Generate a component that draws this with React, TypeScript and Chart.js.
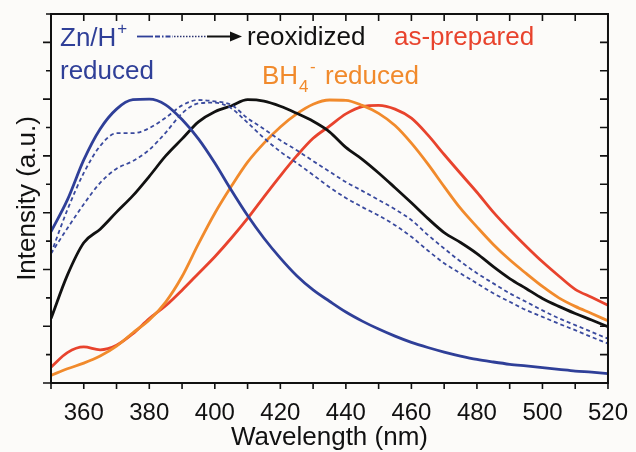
import React, { useEffect, useRef } from "react";
import { Chart, registerables } from "chart.js";

Chart.register(...registerables);

const wavelengths = [350, 355, 360, 365, 370, 375, 380, 385, 390, 395, 400, 405, 410, 415, 420, 425, 430, 435, 440, 445, 450, 455, 460, 465, 470, 475, 480, 485, 490, 495, 500, 505, 510, 515, 520];

const znReduced = [5.33, 6.45, 7.86, 8.95, 9.65, 9.98, 10.0, 9.8, 9.28, 8.6, 7.75, 6.8, 5.9, 5.1, 4.4, 3.78, 3.28, 2.88, 2.5, 2.18, 1.9, 1.65, 1.43, 1.25, 1.09, 0.95, 0.83, 0.74, 0.66, 0.6, 0.54, 0.48, 0.42, 0.38, 0.33];

const reoxStepA = [4.56, 6.1, 7.4, 8.35, 8.8, 8.8, 8.98, 9.35, 9.78, 9.97, 9.92, 9.8, 9.33, 8.95, 8.55, 8.2, 7.82, 7.45, 7.08, 6.77, 6.45, 6.12, 5.74, 5.22, 4.74, 4.28, 3.87, 3.51, 3.16, 2.86, 2.56, 2.28, 2.04, 1.8, 1.56];

const reoxStepB = [4.56, 5.45, 6.3, 7.05, 7.55, 7.82, 8.22, 8.82, 9.5, 9.85, 9.88, 9.68, 9.17, 8.63, 8.15, 7.75, 7.33, 6.9, 6.52, 6.2, 5.9, 5.56, 5.15, 4.67, 4.22, 3.86, 3.51, 3.16, 2.86, 2.57, 2.33, 2.09, 1.86, 1.62, 1.39];

const reoxidized = [2.27, 3.8, 4.94, 5.42, 6.02, 6.6, 7.28, 8.0, 8.6, 9.2, 9.56, 9.76, 9.98, 9.93, 9.75, 9.5, 9.22, 8.85, 8.3, 7.88, 7.4, 6.88, 6.35, 5.8, 5.3, 4.95, 4.56, 4.1, 3.68, 3.33, 2.98, 2.7, 2.45, 2.22, 1.98];

const bh4Reduced = [0.27, 0.5, 0.7, 0.95, 1.3, 1.77, 2.22, 2.85, 3.75, 4.9, 5.98, 6.92, 7.78, 8.45, 9.02, 9.48, 9.82, 9.97, 9.96, 9.78, 9.5, 9.07, 8.45, 7.72, 6.92, 6.15, 5.5, 4.88, 4.34, 3.86, 3.4, 3.0, 2.7, 2.45, 2.19];

const asPrepared = [0.56, 1.07, 1.27, 1.17, 1.33, 1.74, 2.27, 2.72, 3.27, 3.86, 4.45, 5.1, 5.8, 6.56, 7.3, 8.0, 8.62, 9.05, 9.48, 9.74, 9.78, 9.65, 9.33, 8.74, 8.05, 7.38, 6.72, 6.02, 5.4, 4.82, 4.27, 3.77, 3.3, 3.02, 2.74];

const xTickLabels = [360, 380, 400, 420, 440, 460, 480, 500, 520];

const BG = "#fcfbf9";
const BLUE = "#2f3f98";
const DASH_BLUE = "#3a4a9e";
const BLACK = "#111111";
const ORANGE = "#f18a2c";
const RED = "#e8432d";
const FONT = '"Liberation Sans", Arial, sans-serif';

const toPoints = (vals: number[]) => wavelengths.map((w, i) => ({ x: w, y: vals[i] }));

const bgPlugin = {
  id: "bg",
  beforeDraw(chart: any) {
    const { ctx, width, height } = chart;
    ctx.save();
    ctx.fillStyle = BG;
    ctx.fillRect(0, 0, width, height);
    ctx.restore();
  },
};

const framePlugin = {
  id: "frame",
  afterDraw(chart: any) {
    const { ctx, chartArea: a, scales } = chart;
    const x = scales.x;
    const y = scales.y;
    ctx.save();
    ctx.strokeStyle = BLACK;
    ctx.lineWidth = 1.6;
    ctx.beginPath();
    x.ticks.forEach((t: any) => {
      const px = x.getPixelForValue(t.value);
      ctx.moveTo(px, a.bottom);
      ctx.lineTo(px, a.bottom + 6);
      ctx.moveTo(px, a.top);
      ctx.lineTo(px, a.top + 7);
    });
    y.ticks.forEach((t: any) => {
      const py = y.getPixelForValue(t.value);
      const len = Math.round(t.value) % 2 === 0 ? 8 : 5;
      ctx.moveTo(a.left - len, py);
      ctx.lineTo(a.left, py);
      ctx.moveTo(a.right, py);
      ctx.lineTo(a.right - 8, py);
    });
    ctx.stroke();
    ctx.lineWidth = 2;
    ctx.strokeRect(a.left, a.top, a.right - a.left, a.bottom - a.top);

    // annotations
    ctx.textBaseline = "alphabetic";
    ctx.textAlign = "left";
    const big = `26px ${FONT}`;
    const small = `17px ${FONT}`;

    ctx.font = big;
    ctx.fillStyle = BLUE;
    ctx.fillText("Zn/H", 60, 46);
    let w = ctx.measureText("Zn/H").width;
    ctx.font = small;
    ctx.fillText("+", 60 + w + 1, 34);
    ctx.font = big;
    ctx.fillText("reduced", 60, 79);

    // arrow
    const ay = 36.5;
    ctx.lineWidth = 1.8;
    ctx.strokeStyle = BLUE;
    ctx.setLineDash([]);
    ctx.beginPath();
    ctx.moveTo(137, ay);
    ctx.lineTo(153, ay);
    ctx.stroke();
    ctx.setLineDash([5, 2, 1.5, 2]);
    ctx.beginPath();
    ctx.moveTo(155, ay);
    ctx.lineTo(173, ay);
    ctx.stroke();
    ctx.lineWidth = 1.6;
    ctx.strokeStyle = "#2a3270";
    ctx.setLineDash([1.5, 1.5]);
    ctx.beginPath();
    ctx.moveTo(174, ay);
    ctx.lineTo(207, ay);
    ctx.stroke();
    ctx.setLineDash([]);
    ctx.strokeStyle = BLACK;
    ctx.lineWidth = 2;
    ctx.beginPath();
    ctx.moveTo(207, ay);
    ctx.lineTo(232, ay);
    ctx.stroke();
    ctx.fillStyle = BLACK;
    ctx.beginPath();
    ctx.moveTo(230, ay - 5);
    ctx.lineTo(242, ay);
    ctx.lineTo(230, ay + 5);
    ctx.closePath();
    ctx.fill();

    ctx.font = big;
    ctx.fillStyle = BLACK;
    ctx.fillText("reoxidized", 247, 45);
    ctx.fillStyle = RED;
    ctx.fillText("as-prepared", 394, 45);

    ctx.fillStyle = ORANGE;
    ctx.fillText("BH", 262, 84);
    w = ctx.measureText("BH").width;
    ctx.font = small;
    ctx.fillText("4", 262 + w + 1, 92);
    ctx.fillText("-", 262 + w + 12, 72);
    ctx.font = big;
    ctx.fillText("reduced", 325, 84);
    ctx.restore();
  },
};

export default function App() {
  const ref = useRef<HTMLCanvasElement | null>(null);

  useEffect(() => {
    if (!ref.current) return;
    const solid = (label: string, vals: number[], color: string) => ({
      label,
      data: toPoints(vals),
      borderColor: color,
      backgroundColor: color,
      borderWidth: 2.8,
      pointRadius: 0,
      cubicInterpolationMode: "monotone" as const,
      fill: false,
    });
    const dashed = (label: string, vals: number[]) => ({
      label,
      data: toPoints(vals),
      borderColor: DASH_BLUE,
      backgroundColor: DASH_BLUE,
      borderWidth: 1.8,
      borderDash: [4, 3],
      pointRadius: 0,
      cubicInterpolationMode: "monotone" as const,
      fill: false,
    });
    const chart = new Chart(ref.current, {
      type: "line",
      data: {
        datasets: [
          dashed("reoxidation step A", reoxStepA),
          dashed("reoxidation step B", reoxStepB),
          solid("Zn/H+ reduced", znReduced, BLUE),
          solid("reoxidized", reoxidized, BLACK),
          solid("BH4- reduced", bh4Reduced, ORANGE),
          solid("as-prepared", asPrepared, RED),
        ],
      },
      options: {
        animation: false,
        responsive: false,
        maintainAspectRatio: false,
        layout: { padding: { top: 14, right: 24, left: 0, bottom: 0 } },
        plugins: { legend: { display: false }, tooltip: { enabled: false } },
        scales: {
          x: {
            type: "linear",
            min: 350,
            max: 520,
            grid: { display: false },
            border: { display: false },
            ticks: {
              stepSize: 10,
              autoSkip: false,
              maxRotation: 0,
              padding: 8,
              color: BLACK,
              font: { family: FONT, size: 24 },
              callback: (v: any) => (xTickLabels.includes(Number(v)) ? String(v) : ""),
            },
            title: {
              display: true,
              text: "Wavelength (nm)",
              color: BLACK,
              font: { family: FONT, size: 26, lineHeight: 1 },
              padding: { top: 0, bottom: 1 },
            },
            afterFit: (s: any) => {
              s.height = 69;
            },
          },
          y: {
            type: "linear",
            min: 0,
            max: 13,
            grid: { display: false },
            border: { display: false },
            ticks: { stepSize: 1, display: false },
            title: {
              display: true,
              text: "Intensity (a.u.)",
              color: BLACK,
              font: { family: FONT, size: 26, lineHeight: 1 },
              padding: { top: 15, bottom: 0 },
            },
            afterFit: (s: any) => {
              s.width = 51;
            },
          },
        },
      },
      plugins: [bgPlugin, framePlugin],
    });
    return () => chart.destroy();
  }, []);

  return (
    <div style={{ position: "fixed", left: 0, top: 0, width: 636, height: 452, background: BG }}>
      <canvas ref={ref} width={636} height={452} style={{ display: "block" }} />
    </div>
  );
}
